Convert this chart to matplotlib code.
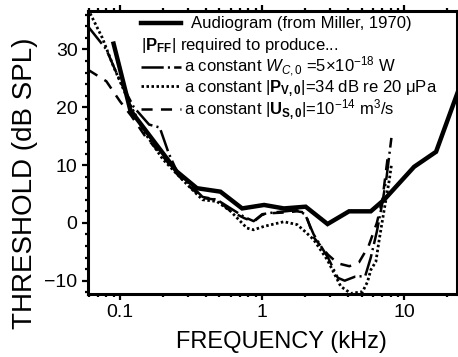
import matplotlib
matplotlib.use("Agg")
import matplotlib.pyplot as plt
from matplotlib.ticker import FixedLocator, NullFormatter, MultipleLocator, LogLocator

plt.rcParams['font.family'] = ['Liberation Sans', 'DejaVu Sans']
plt.rcParams['mathtext.fontset'] = 'custom'
plt.rcParams['mathtext.rm'] = 'Liberation Sans'
plt.rcParams['mathtext.it'] = 'Liberation Sans:italic'
plt.rcParams['mathtext.bf'] = 'Liberation Sans:bold'
plt.rcParams['lines.scale_dashes'] = False

# audiogram (Miller, 1970)
aud_f = [0.09, 0.118, 0.25, 0.347, 0.508, 0.722, 1.03, 1.42, 2.02, 2.88, 4.08, 5.8, 7.2, 11.7, 16.7, 23.8]
aud_db = [31, 19.5, 8.9, 6.0, 5.4, 2.5, 3.1, 2.5, 2.8, -0.2, 2.0, 2.0, 4.0, 9.7, 12.3, 22.7]

# constant power W_C,0
w_f = [0.0594, 0.08, 0.1, 0.125, 0.16, 0.19, 0.22, 0.25, 0.3, 0.38, 0.48, 0.6, 0.75, 0.87, 1.0,
       1.2, 1.45, 1.75, 2.0, 2.3, 2.9, 3.4, 3.8, 4.5, 5.3, 5.8, 6.4, 7.0, 7.5, 8.1]
w_db = [34, 30, 24.5, 20, 17, 16.5, 12, 9, 7, 4.5, 4, 2.5, 1, 0.3, 1.5,
        1.8, 2, 2.2, 1.5, -2, -6, -9.5, -10, -9.3, -9.2, -6, -1.5, 3.5, 8, 14.7]

# constant |P_V,0|
p_f = [0.0594, 0.075, 0.09, 0.12, 0.15, 0.2, 0.25, 0.3, 0.38, 0.48, 0.6, 0.78, 0.87, 1.03,
       1.42, 1.76, 2.0, 2.3, 2.87, 3.57, 4.2, 5.08, 5.5, 5.81, 6.3, 6.65, 7.2, 7.83, 8.1]
p_db = [37, 32, 27, 20, 15.5, 11, 8.5, 6.5, 4.0, 3.7, 2, -0.9, -1.2, -0.6,
        0.2, -0.3, -1.5, -2.9, -6.4, -11, -12.2, -11.9, -10.2, -8.1, -6.7, -2.9, 2.2, 7.4, 10]

# constant |U_S,0|
u_f = [0.0594, 0.08, 0.1, 0.12, 0.15, 0.2, 0.25, 0.3, 0.38, 0.48, 0.6, 0.75, 0.87, 1.0,
       1.2, 1.45, 1.75, 2.0, 2.3, 2.9, 3.4, 4.1, 4.8, 5.6, 6.4, 7.0, 7.6]
u_db = [26.5, 24.5, 21, 18.5, 15, 11.5, 8.5, 6.5, 4.3, 4.0, 2.0, 0.8, 0.2, 1.4,
        1.7, 1.8, 2.0, 1.8, -2.5, -5.5, -7, -7.5, -6.8, -4, 0, 4, 11]

fig = plt.figure(figsize=(4.58, 3.57), dpi=100)
ax = fig.add_axes([0.192, 0.1765, 0.805, 0.7935])

h_aud, = ax.plot(aud_f, aud_db, color='black', lw=3.2, solid_joinstyle='miter')
h_w, = ax.plot(w_f, w_db, color='black', lw=1.8, linestyle=(0, (16, 3, 1.5, 3)))
h_p, = ax.plot(p_f, p_db, color='black', lw=2.0, linestyle=(0, (1.8, 1.8)))
h_u, = ax.plot(u_f, u_db, color='black', lw=1.8, linestyle=(0, (8, 6)))

ax.set_xscale('log')
ax.set_xlim(0.0594, 23.3)
ax.set_ylim(-12.3, 36.7)

ax.xaxis.set_major_locator(FixedLocator([0.1, 1, 10]))
ax.set_xticklabels(['0.1', '1', '10'])
ax.xaxis.set_minor_locator(LogLocator(base=10, subs=range(2, 10)))
ax.xaxis.set_minor_formatter(NullFormatter())
ax.yaxis.set_major_locator(FixedLocator([-10, 0, 10, 20, 30]))
ax.yaxis.set_minor_locator(MultipleLocator(2))

ax.tick_params(which='both', direction='out', top=True, right=True, width=1.6, labelsize=14)
ax.tick_params(which='major', length=4.5, pad=3)
ax.tick_params(which='minor', length=2.5)
for s in ax.spines.values():
    s.set_linewidth(2.2)

ax.set_xlabel('FREQUENCY (kHz)', fontsize=17)
ax.xaxis.set_label_coords(0.526, -0.13)
ax.set_ylabel('THRESHOLD (dB SPL)', fontsize=20)
ax.yaxis.set_label_coords(-0.135, 0.39)

fs = 12
leg1 = ax.legend([h_aud], ['Audiogram (from Miller, 1970)'], loc='upper left',
                 bbox_to_anchor=(0.143, 0.98), frameon=False, fontsize=fs,
                 handlelength=2.45, handletextpad=0.6, borderpad=0, borderaxespad=0)
ax.add_artist(leg1)
leg2 = ax.legend([h_w, h_p, h_u],
                 [r'a constant $W_{C,0}$ =5×10$^{-18}$ W',
                  r'a constant $|\mathbf{P}_{\mathbf{V,0}}|$=34 dB re 20 μPa',
                  r'a constant $|\mathbf{U}_{\mathbf{S,0}}|$=10$^{-14}$ m$^3$/s'],
                 title=r'$|\mathbf{P}_{\mathbf{FF}}|$ required to produce...',
                 title_fontsize=fs, loc='upper left', bbox_to_anchor=(0.143, 0.91),
                 frameon=False, fontsize=fs, handlelength=2.45, handletextpad=0.15,
                 labelspacing=-0.08, borderpad=0, borderaxespad=0)
leg2._legend_box.align = 'left'
leg2._legend_box.sep = 0

fig.savefig('out.png', dpi=100)
